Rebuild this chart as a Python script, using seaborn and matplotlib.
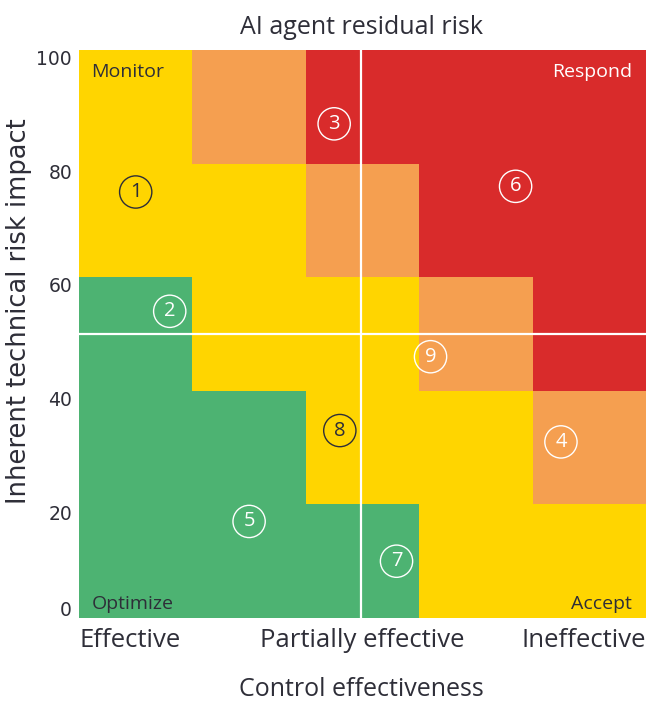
import numpy as np
import pandas as pd
import matplotlib
matplotlib.use("Agg")
import matplotlib.pyplot as plt
from matplotlib.colors import ListedColormap
import seaborn as sns

# Risk levels per grid cell, top row (impact 80-100) to bottom row (0-20),
# columns from effective to ineffective controls.
# 0 = optimize (green), 1 = monitor/accept (yellow), 2 = elevated (orange), 3 = respond (red)
risk_rows = [
    [1, 2, 3, 3, 3],
    [1, 1, 2, 3, 3],
    [0, 1, 1, 2, 3],
    [0, 0, 1, 1, 2],
    [0, 0, 0, 1, 1],
]
level_colors = ["#4DB372", "#FFD500", "#F59F50", "#D92B2B"]

# Numbered risks: control ineffectiveness (0-100) and impact (0-100)
risk_ids = [1, 2, 3, 4, 5, 6, 7, 8, 9]
risk_control = [10, 16, 45, 85, 30, 77, 56, 46, 62]
risk_impact = [75, 54, 87, 31, 17, 76, 10, 33, 46]

y_tick_values = [100, 80, 60, 40, 20, 0]
x_tick_labels = ["Effective", "Partially effective", "Ineffective"]
quadrant_labels = ["Monitor", "Respond", "Optimize", "Accept"]

DARK = "#2E2E38"
MAIN_FONT = ["Open Sans", "DejaVu Sans"]

sns.set_theme(style="white")
plt.rcParams["font.family"] = MAIN_FONT

fig = plt.figure(figsize=(6.46, 7.04), dpi=100)
ax = fig.add_axes([79 / 646, 86 / 704, 567 / 646, 568 / 704])

grid = pd.DataFrame(risk_rows)
sns.heatmap(grid, cmap=ListedColormap(level_colors), vmin=-0.5, vmax=3.5,
            cbar=False, ax=ax, linewidths=0, square=False)

# Grid units: each cell spans 20 points on both scales
def to_cell_x(v):
    return np.asarray(v, dtype=float) / 20.0

def to_cell_y(v):
    return (100.0 - np.asarray(v, dtype=float)) / 20.0

# Crosshair at the midpoint of both scales
ax.axvline(to_cell_x(50) - 0.01, color="white", lw=1.6, zorder=3)
ax.axhline(to_cell_y(50), color="white", lw=1.6, zorder=3)

# Circled risk markers
cell_levels = [risk_rows[int(min(to_cell_y(i), 4.999))][int(min(to_cell_x(c), 4.999))]
               for c, i in zip(risk_control, risk_impact)]
ink = [DARK if lvl == 1 else "white" for lvl in cell_levels]
pts = pd.DataFrame({"cx": to_cell_x(risk_control), "cy": to_cell_y(risk_impact)})
sns.scatterplot(data=pts, x="cx", y="cy", ax=ax, s=540, marker="o",
                facecolors="none", edgecolor=ink, linewidth=1.0, zorder=4,
                legend=False)
for rid, cx, cy, col in zip(risk_ids, pts["cx"], pts["cy"], ink):
    ax.text(cx, cy, str(rid), ha="center", va="center", color=col,
            fontsize=14.5, zorder=5)

# Quadrant captions
ax.text(0.022, 0.962, quadrant_labels[0], transform=ax.transAxes, ha="left",
        va="center", color=DARK, fontsize=14)
ax.text(0.975, 0.962, quadrant_labels[1], transform=ax.transAxes, ha="right",
        va="center", color="white", fontsize=14)
ax.text(0.022, 0.025, quadrant_labels[2], transform=ax.transAxes, ha="left",
        va="center", color=DARK, fontsize=14)
ax.text(0.975, 0.025, quadrant_labels[3], transform=ax.transAxes, ha="right",
        va="center", color=DARK, fontsize=14)

# Axes ticks
ytick_pos = [min(to_cell_y(v) + 0.085, 4.93) for v in y_tick_values]
ax.set_yticks(ytick_pos)
ax.set_yticklabels([str(v) for v in y_tick_values], rotation=0,
                   fontsize=13.5, color=DARK, family=["DejaVu Sans"])
ax.set_xticks([0, 2.5, 5])
ax.set_xticklabels(x_tick_labels, fontsize=18.5, color=DARK)
for lab, ha in zip(ax.get_xticklabels(), ["left", "center", "right"]):
    lab.set_ha(ha)
ax.tick_params(axis="both", length=0)
ax.tick_params(axis="y", pad=5)
ax.tick_params(axis="x", pad=7)
ax.set_xlabel("")
ax.set_ylabel("")
for sp in ax.spines.values():
    sp.set_visible(False)

fig.text(361 / 646, 1 - 27 / 704, "AI agent residual risk", ha="center",
         va="center", fontsize=18, color=DARK)
fig.text(361 / 646, 1 - 690 / 704, "Control effectiveness", ha="center",
         va="center", fontsize=18, color=DARK)
fig.text(19 / 646, 1 - 311 / 704, "Inherent technical risk impact", ha="center",
         va="center", rotation=90, fontsize=18.5, color=DARK,
         family=["DejaVu Sans"])

fig.savefig("out.png", dpi=100)
